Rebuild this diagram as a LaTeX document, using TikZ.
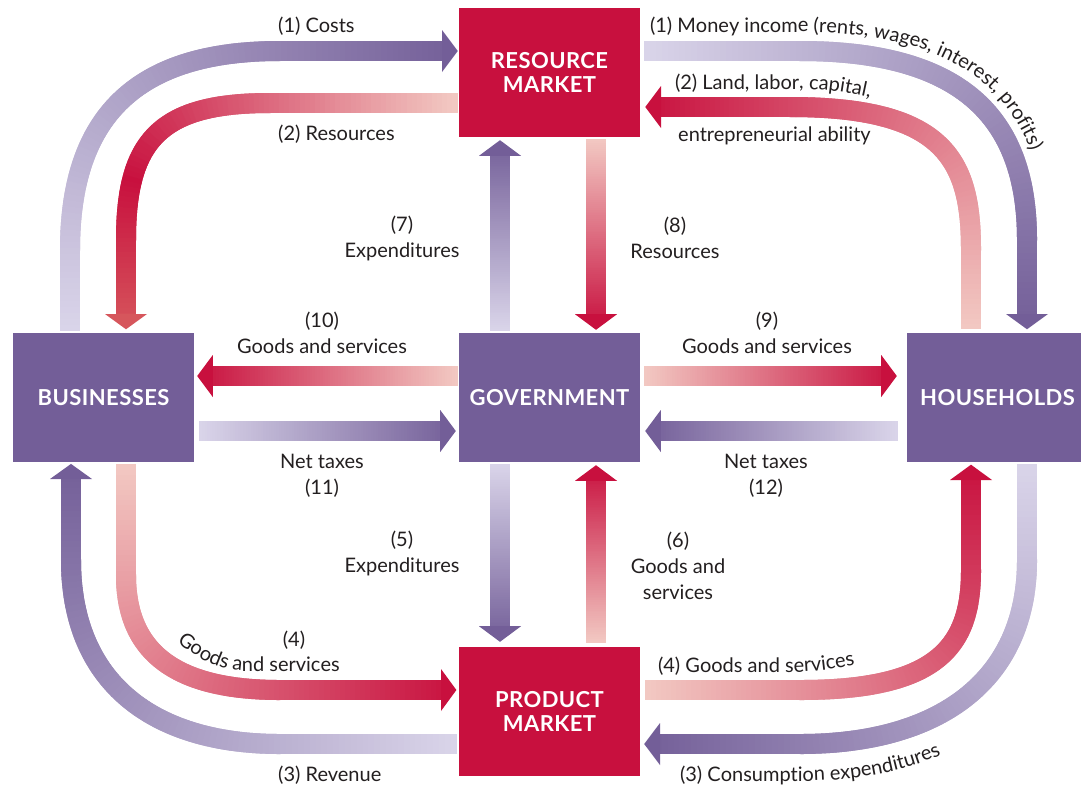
\documentclass[tikz,border=0pt]{standalone}
\usepackage{fontspec}
\setmainfont{Lato}
\newfontfamily\boxfont{Lato}[LetterSpace=2]
\usetikzlibrary{calc,decorations.markings,decorations.text}
\definecolor{pdark}{HTML}{735E98}
\definecolor{plight}{HTML}{D9D4E9}
\definecolor{rdark}{HTML}{C8103E}
\definecolor{rpale}{HTML}{F2C8C2}
\definecolor{rmid}{HTML}{D6565C}
\definecolor{ink}{HTML}{231F20}
\tikzset{
  flow/.style n args={4}{decoration={markings,
      mark=between positions 0 and 1 step 1pt with {%
        \pgfmathsetmacro\dd{\pgfkeysvalueof{/pgf/decoration/mark info/distance from start}}%
        \pgfmathsetmacro\rr{\pgfdecoratedpathlength-\dd}%
        \pgfmathtruncatemacro\fr{\dd/\pgfdecoratedpathlength*100}%
        \ifnum\fr<#4\relax
          \pgfmathtruncatemacro\pc{100*\fr/#4}\edef\cc{#2!\pc!#1}%
        \else
          \pgfmathtruncatemacro\pc{100*(\fr-#4)/(100-#4)}\edef\cc{#3!\pc!#2}%
        \fi
        \ifdim\rr pt<15pt\relax\else
          \fill[fill=\cc] (-1pt,-10pt) rectangle (1pt,10pt);
          \ifdim\rr pt<16pt\relax
            \fill[fill=#3] (\rr pt,0pt) -- (0pt,21pt) -- (0pt,-21pt) -- cycle;
          \fi
        \fi
      }
    }, postaction={decorate}},
  pflow/.style={flow={plight}{plight!50!pdark}{pdark}{50}},
  rflow/.style={flow={rpale}{rpale!50!rdark}{rdark}{50}},
  box/.style={minimum width=181pt, minimum height=129pt, inner sep=0pt, text=white, align=center,
    font=\boxfont\bfseries\fontsize{22}{24.5}\selectfont},
  rbox/.style={box, fill=rdark},
  pbox/.style={box, fill=pdark},
  lbl/.style={font=\fontsize{20}{26}\selectfont, text=ink, inner sep=0pt, align=center},
  curvetext/.style={decorate, decoration={text along path, text align=left, text color=ink,
    text={|\fontsize{20}{26}\selectfont|#1}}}
}
\begin{document}
\begin{tikzpicture}[x=1pt,y=-1pt]
\useasboundingbox (0,0) rectangle (1081,788);
\clip (0,0) rectangle (1081,788);
\fill[white] (0,0) rectangle (1081,788);
% boxes
\node[rbox] (rm) at (549.5,72.5) {RESOURCE\\MARKET};
\node[rbox] (pm) at (549.5,711.5) {PRODUCT\\MARKET};
\node[pbox] (bus) at (103.5,397.5) {BUSINESSES};
\node[pbox] (gov) at (549.5,397.5) {GOVERNMENT};
\node[pbox] (hh) at (997.5,397.5) {HOUSEHOLDS};
% curved flows
\path[pflow] ($(bus.north)+(-33.5,-3)$) -- (70,250) .. controls (70,108) and (145,51) .. (280,51) -- ($(rm.west)+(-3,-21.5)$);
\path[flow={rpale}{rdark}{rmid}{70}] ($(rm.west)+(-2,30.5)$) -- (270,103) .. controls (160,103) and (126,140) .. (126,240) -- ($(bus.north)+(22.5,-4)$);
\path[pflow] ($(rm.east)+(5,-21.5)$) -- (800,51) .. controls (965,51) and (1027,120) .. (1027,240) -- ($(hh.north)+(29.5,-5)$);
\path[rflow] ($(hh.north)+(-26.5,-5)$) -- (971,250) .. controls (971,160) and (945,107) .. (790,107) -- ($(rm.east)+(6,34.5)$);
\path[pflow] ($(pm.west)+(-3,32.5)$) -- (280,744) .. controls (150,744) and (71,680) .. (71,560) -- ($(bus.south)+(-32.5,3)$);
\path[rflow] ($(bus.south)+(22.5,3)$) -- (126,575) .. controls (126,652) and (175,690) .. (280,690) -- ($(pm.west)+(-3,-21.5)$);
\path[rflow] ($(pm.east)+(6,-21.5)$) -- (800,690) .. controls (940,690) and (971,645) .. (971,570) -- ($(hh.south)+(-26.5,3)$);
\path[pflow] ($(hh.south)+(29.5,3)$) -- (1027,560) .. controls (1027,680) and (940,744) .. (800,744) -- ($(pm.east)+(6,32.5)$);
% straight flows
\path[pflow] ($(gov.north)+(-49.5,-3)$) -- ($(rm.south)+(-49.5,3)$);
\path[rflow] ($(rm.south)+(46.5,3)$) -- ($(gov.north)+(46.5,-3)$);
\path[pflow] ($(gov.south)+(-49.5,3)$) -- ($(pm.north)+(-49.5,-5)$);
\path[rflow] ($(pm.north)+(46.5,-5)$) -- ($(gov.south)+(46.5,3)$);
\path[rflow] ($(gov.west)+(-2,-21.5)$) -- ($(bus.east)+(3,-21.5)$);
\path[pflow] ($(bus.east)+(6,33.5)$) -- ($(gov.west)+(-3,33.5)$);
\path[rflow] ($(gov.east)+(5,-21.5)$) -- ($(hh.west)+(-10,-21.5)$);
\path[pflow] ($(hh.west)+(-10,33.5)$) -- ($(gov.east)+(5,33.5)$);
% labels
\node[lbl, anchor=base west] (l1) at (278,32) {(1) Costs};
\node[lbl, anchor=base west] (l2) at (278,140) {(2) Resources};
\node[lbl] (l7) at (402,238) {(7)\\Expenditures};
\node[lbl] (l8) at (675,238) {(8)\\Resources};
\node[lbl] (l10) at (322,333) {(10)\\Goods and services};
\node[lbl] (l9) at (767,333) {(9)\\Goods and services};
\node[lbl] (l11) at (322,476) {Net taxes\\(11)};
\node[lbl] (l12) at (766,476) {Net taxes\\(12)};
\node[lbl] (l5) at (402,553) {(5)\\Expenditures};
\node[lbl] (l6) at (678,566) {(6)\\Goods and\\services};
\node[lbl] (l4) at (294,640) {(4)};
\node[lbl, anchor=base west] (l3) at (278,781) {(3) Revenue};
\node[lbl, anchor=base west] (lent) at (678,141) {entrepreneurial ability};
% curved labels
\path[curvetext={(1) Money income (rents, wages, interest, profits)}] (650,32) -- (800,32) .. controls (978,32) and (1048,110) .. (1048,260);
\path[curvetext={(2) Land, labor, capital,}] (675,89) -- (800,89) .. controls (825,89) and (850,92) .. (895,104);
\path[curvetext={Goods and services}] (177,642) .. controls (195,656) and (215,670) .. (245,671) -- (380,671);
\path[curvetext={(4) Goods and services}] (658,672) -- (790,672) .. controls (820,672) and (845,668) .. (885,658);
\path[curvetext={(3) Consumption expenditures}] (680,781) -- (800,781) .. controls (985,781) and (1064,680) .. (1064,560);
\end{tikzpicture}
\end{document}
